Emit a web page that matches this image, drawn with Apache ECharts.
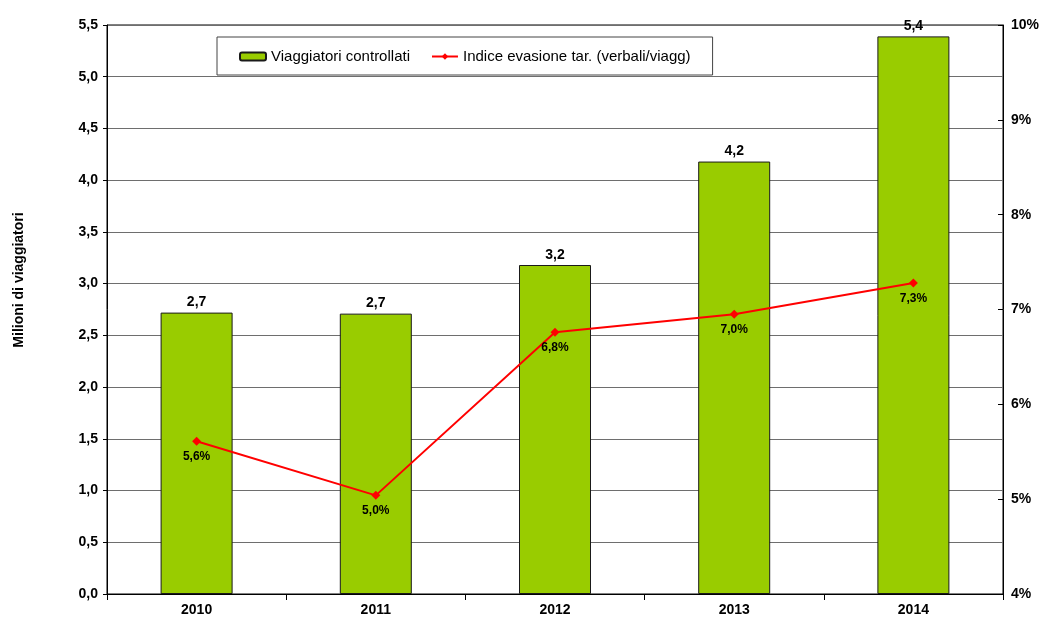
<!DOCTYPE html>
<html>
<head>
<meta charset="utf-8">
<script src="https://cdn.jsdelivr.net/npm/echarts@6/dist/echarts.min.js"></script>
<style>
  html, body { margin: 0; padding: 0; background: #fff; }
  #chart { width: 1040px; height: 617px; }
</style>
</head>
<body>
<div id="chart"></div>
<script>
// Anni
const years = ['2010', '2011', '2012', '2013', '2014'];
// Viaggiatori controllati (milioni)
const controllati = [2.72, 2.71, 3.18, 4.18, 5.39];
// Indice evasione tariffaria (verbali/viaggiatori), in %
const evasione = [5.61, 5.04, 6.76, 6.95, 7.28];

const FONT = '"Liberation Sans", Arial, sans-serif';
const comma = (v, d) => v.toFixed(d).replace('.', ',');

const chart = echarts.init(document.getElementById('chart'), null, { renderer: 'canvas' });

chart.setOption({
  animation: false,
  textStyle: { fontFamily: FONT },
  grid: {
    left: 107, right: 37, top: 25, bottom: 23,
    outerBoundsMode: 'none',
    containLabel: false,
    show: true, borderColor: '#000', borderWidth: 1, backgroundColor: 'transparent'
  },
  legend: {
    left: 217, top: 37,
    padding: [12, 22, 11, 22],
    itemGap: 21,
    itemWidth: 26, itemHeight: 8,
    backgroundColor: '#fff',
    borderColor: '#444', borderWidth: 1,
    textStyle: { fontFamily: FONT, fontSize: 15, color: '#000' },
    data: ['Viaggiatori controllati', 'Indice evasione tar. (verbali/viagg)']
  },
  graphic: [{
    type: 'text',
    x: 19, y: 280,
    rotation: Math.PI / 2,
    style: {
      text: 'Milioni di viaggiatori',
      font: 'bold 14px ' + FONT,
      fill: '#000',
      align: 'center',
      verticalAlign: 'middle'
    }
  }],
  xAxis: {
    type: 'category',
    data: years,
    axisLine: { lineStyle: { color: '#000', width: 1 } },
    axisTick: { show: true, length: 6, lineStyle: { color: '#000' } },
    axisLabel: { margin: 9, fontFamily: FONT, fontSize: 14, fontWeight: 'bold', color: '#000' }
  },
  yAxis: [{
    type: 'value',
    min: 0, max: 5.5, interval: 0.5,
    axisLine: { show: true, lineStyle: { color: '#000', width: 1 } },
    axisTick: { show: true, length: 4, lineStyle: { color: '#000' } },
    axisLabel: {
      margin: 9, fontFamily: FONT, fontSize: 14, fontWeight: 'bold', color: '#000',
      formatter: v => comma(v, 1)
    },
    splitLine: { show: true, lineStyle: { color: '#6e6e6e', width: 1 } }
  }, {
    type: 'value',
    position: 'right',
    min: 4, max: 10, interval: 1,
    axisLine: { show: true, lineStyle: { color: '#000', width: 1 } },
    axisTick: { show: true, inside: true, length: 5, lineStyle: { color: '#000' } },
    axisLabel: {
      margin: 8, fontFamily: FONT, fontSize: 14, fontWeight: 'bold', color: '#000',
      formatter: v => v + '%'
    },
    splitLine: { show: false }
  }],
  series: [{
    name: 'Viaggiatori controllati',
    type: 'bar',
    yAxisIndex: 0,
    data: controllati,
    barWidth: 72,
    itemStyle: { color: '#99cc00', borderColor: '#1a1a1a', borderWidth: 1 },
    label: {
      show: true, position: 'top', distance: 3,
      fontFamily: FONT, fontSize: 14, fontWeight: 'bold', color: '#000',
      formatter: p => comma(p.value, 1)
    }
  }, {
    name: 'Indice evasione tar. (verbali/viagg)',
    type: 'line',
    yAxisIndex: 1,
    data: evasione,
    symbol: 'diamond',
    symbolSize: 9,
    lineStyle: { color: '#ff0000', width: 2 },
    itemStyle: { color: '#ff0000' },
    label: {
      show: true, position: 'bottom', distance: 5,
      fontFamily: FONT, fontSize: 12, fontWeight: 'bold', color: '#000',
      formatter: p => comma(p.value, 1) + '%'
    }
  }]
});
</script>
</body>
</html>
